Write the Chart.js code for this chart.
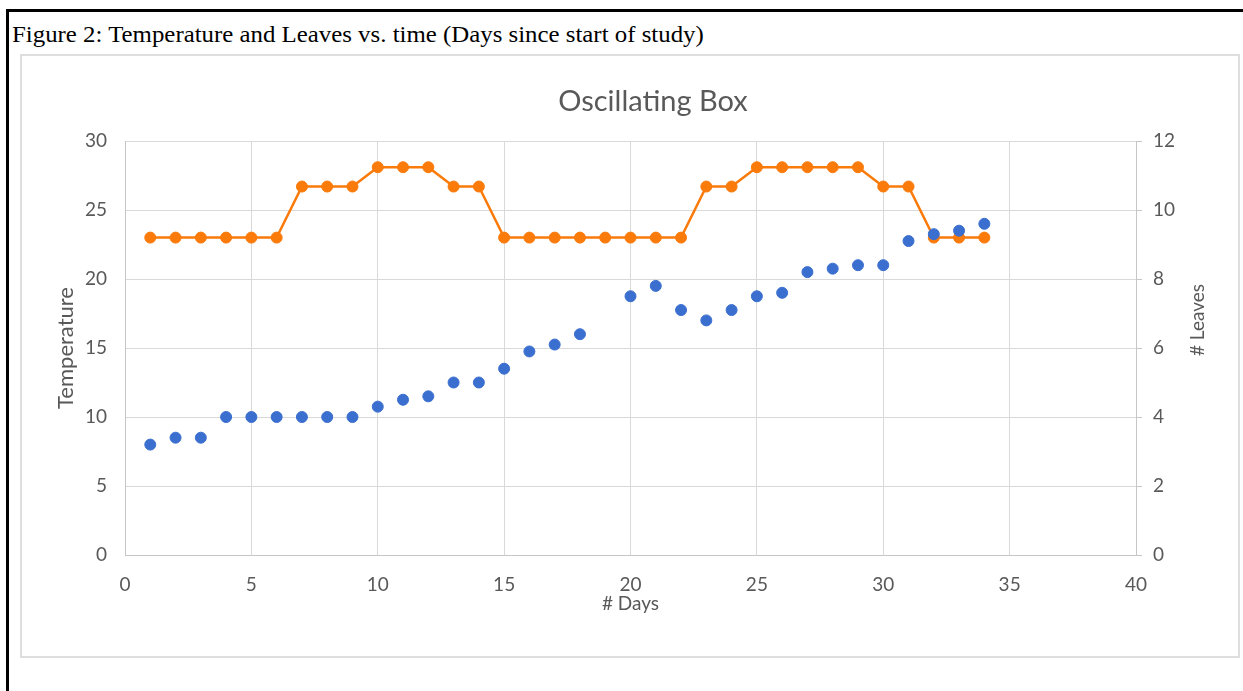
<!DOCTYPE html>
<html>
<head>
<meta charset="utf-8">
<title>Oscillating Box</title>
<script src="https://cdn.jsdelivr.net/npm/chart.js@4.4.1/dist/chart.umd.min.js"></script>
<style>
  html, body { margin: 0; padding: 0; background: #fff; }
  body { width: 1243px; height: 691px; position: relative; overflow: hidden; }
  #outer {
    position: absolute; left: 6px; top: 9px; width: 1250px; height: 700px;
    border-left: 3px solid #000; border-top: 3px solid #000;
  }
  #caption {
    position: absolute; left: 12px; top: 22px;
    font-family: "Liberation Serif", "Times New Roman", serif;
    font-size: 23px; color: #000; white-space: nowrap;
    transform: scaleX(1.08); transform-origin: left top;
  }
  #frame {
    position: absolute; left: 20px; top: 54px; width: 1216px; height: 600px;
    border: 2px solid #dedede;
  }
  #chartBox { position: absolute; left: 0; top: 0; width: 1216px; height: 600px; }
</style>
</head>
<body>
<div id="outer"></div>
<div id="caption">Figure 2: Temperature and Leaves vs. time (Days since start of study)</div>
<div id="frame">
  <div id="chartBox"><canvas id="boxChart"></canvas></div>
</div>

<script>
// ---------------- DATA ----------------
const days = [1, 2, 3, 4, 5, 6, 7, 8, 9, 10, 11, 12, 13, 14, 15, 16, 17,
  18, 19, 20, 21, 22, 23, 24, 25, 26, 27, 28, 29, 30, 31, 32, 33, 34];

// # Leaves (right axis), no reading on day 19
const leaves = [3.2, 3.4, 3.4, 4.0, 4.0, 4.0, 4.0, 4.0, 4.0, 4.3, 4.5, 4.6, 5.0, 5.0, 5.4, 5.9, 6.1,
  6.4, null, 7.5, 7.8, 7.1, 6.8, 7.1, 7.5, 7.6, 8.2, 8.3, 8.4, 8.4, 9.1, 9.3, 9.4, 9.6];

// Temperature (left axis)
const temperature = [23, 23, 23, 23, 23, 23, 26.7, 26.7, 26.7, 28.1, 28.1, 28.1, 26.7, 26.7, 23, 23, 23,
  23, 23, 23, 23, 23, 26.7, 26.7, 28.1, 28.1, 28.1, 28.1, 28.1, 26.7, 26.7, 23, 23, 23];

const xTicks = [0, 40, 5];      // min, max, step
const tempTicks = [0, 30, 5];
const leafTicks = [0, 12, 2];

// ---------------- HELPERS ----------------
const tickColor = "#595959";
const gridColor = "#d9d9d9";
const axisColor = "#c6c6c6";
const font = "Lato";

function toPoints(values) {
  return days.map((d, i) => ({ x: d, y: values[i] }));
}

// chart title sits a bit right of centre, and the right axis title
// reads bottom-to-top like the left one
const extraText = {
  id: "extraText",
  afterDraw(chart) {
    const ctx = chart.ctx;
    ctx.save();
    ctx.fillStyle = tickColor;
    ctx.textAlign = "center";
    ctx.textBaseline = "middle";

    ctx.font = "29px " + font;
    ctx.fillText("Oscillating Box", 631, 46);

    ctx.translate(1176, 264);
    ctx.rotate(-Math.PI / 2);
    ctx.font = "19px " + font;
    ctx.fillText("# Leaves", 0, 0);
    ctx.restore();
  }
};

// ---------------- CHART ----------------
const ctx = document.getElementById("boxChart").getContext("2d");

new Chart(ctx, {
  type: "line",
  data: {
    datasets: [
      {
        label: "# Leaves",
        data: toPoints(leaves),
        yAxisID: "y1",
        showLine: false,
        pointRadius: 5.5,
        pointBorderWidth: 1,
        pointBackgroundColor: "#3b6fcf",
        pointBorderColor: "#3b6fcf"
      },
      {
        label: "Temperature",
        data: toPoints(temperature),
        yAxisID: "y",
        borderColor: "#fa7a0a",
        borderWidth: 2.5,
        tension: 0,
        pointRadius: 5.5,
        pointBorderWidth: 1,
        pointBackgroundColor: "#fa7a0a",
        pointBorderColor: "#fa7a0a"
      }
    ]
  },
  options: {
    responsive: true,
    maintainAspectRatio: false,
    animation: false,
    layout: { padding: { top: 85, left: 0, right: 0, bottom: 0 } },
    plugins: {
      legend: { display: false },
      tooltip: { enabled: false },
      title: { display: false }
    },
    scales: {
      x: {
        type: "linear",
        min: xTicks[0],
        max: xTicks[1],
        ticks: {
          stepSize: xTicks[2],
          color: tickColor,
          font: { family: font, size: 19 },
          padding: 18
        },
        grid: { color: gridColor, drawTicks: false },
        border: { color: axisColor },
        title: {
          display: true,
          text: "# Days",
          color: tickColor,
          font: { family: font, size: 19 },
          padding: { top: 0, bottom: 41 }
        },
        afterFit(scale) { scale.height = 101; }
      },
      y: {
        position: "left",
        min: tempTicks[0],
        max: tempTicks[1],
        ticks: {
          stepSize: tempTicks[2],
          color: tickColor,
          font: { family: font, size: 19 },
          padding: 18
        },
        grid: { color: gridColor, drawTicks: false },
        border: { color: axisColor },
        title: {
          display: true,
          text: "Temperature",
          color: tickColor,
          font: { family: font, size: 22 },
          padding: { top: 31 }
        },
        afterFit(scale) { scale.width = 103; }
      },
      y1: {
        position: "right",
        min: leafTicks[0],
        max: leafTicks[1],
        ticks: {
          stepSize: leafTicks[2],
          color: tickColor,
          font: { family: font, size: 19 },
          padding: 11
        },
        grid: { drawOnChartArea: false, color: axisColor, tickLength: 6 },
        border: { color: axisColor },
        afterFit(scale) { scale.width = 102; }
      }
    }
  },
  plugins: [extraText]
});
</script>
</body>
</html>
